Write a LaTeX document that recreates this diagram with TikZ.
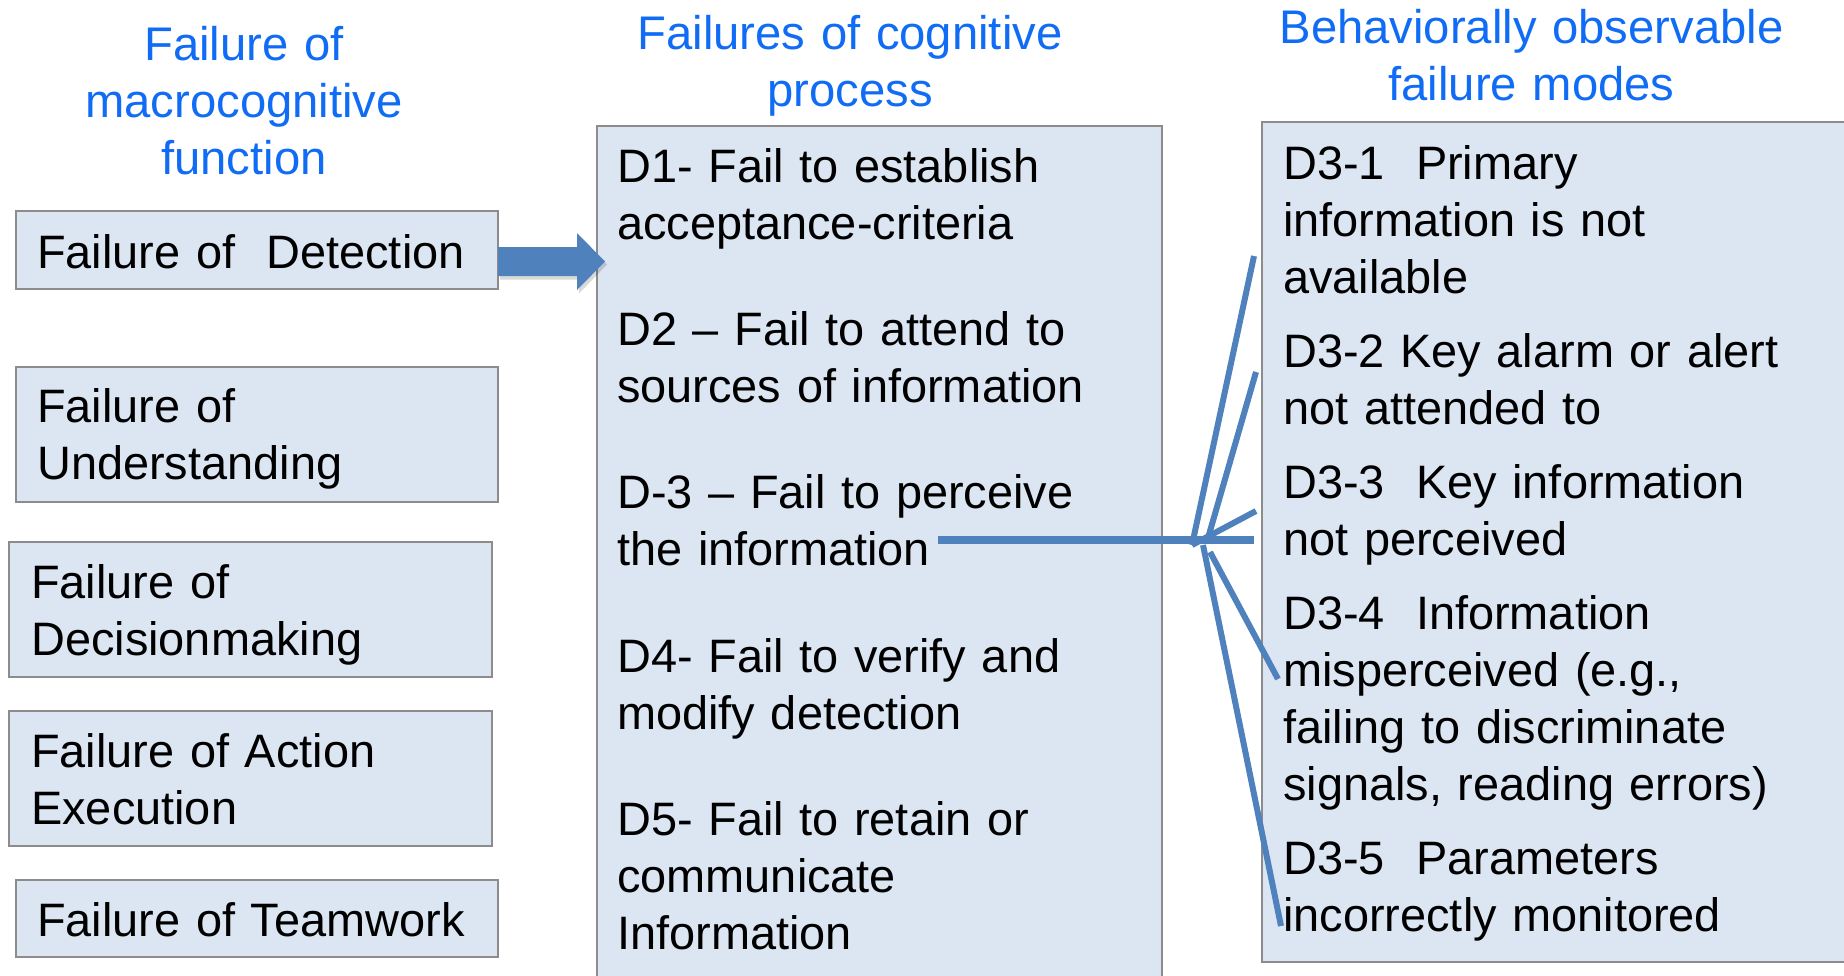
\documentclass[tikz,border=0pt]{standalone}
\usepackage{fontspec}
\setmainfont{Liberation Sans}
\usetikzlibrary{calc}
\definecolor{titleblue}{RGB}{16,108,245}
\definecolor{boxfill}{RGB}{220,230,242}
\definecolor{boxline}{RGB}{140,140,140}
\definecolor{linkblue}{RGB}{79,129,189}
\begin{document}
\begin{tikzpicture}[x=1pt,y=-1pt,
  panel/.style={draw=boxline, line width=2pt, fill=boxfill},
  heading/.style={text=titleblue, font=\fontsize{47.2}{57}\selectfont,
    text width=640pt, align=center, inner sep=0pt, anchor=base},
  body/.style={font=\fontsize{46.9}{57}\selectfont,
    text width=600pt, align=left, inner sep=0pt, anchor=base west},
  link/.style={draw=linkblue, line width=6pt},
  mainlink/.style={draw=linkblue, line width=7.5pt}]
\useasboundingbox (0,0) rectangle (1844,975);
\clip (0,0) rectangle (1844,975);

% column headings
\node[heading] (h1) at (244,60)    {Failure of\\macrocognitive\\function};
\node[heading] (h2) at (850,49.5)  {Failures of cognitive\\process};
\node[heading] (h3) at (1531.5,43.5) {Behaviorally observable\\failure modes};

% macrocognitive functions
\draw[panel] (16,211) rectangle (498,289);
\draw[panel] (16,367) rectangle (498,502);
\draw[panel] (9,542)  rectangle (492,677);
\draw[panel] (9,711)  rectangle (492,846);
\draw[panel] (16,880) rectangle (498,957);
\coordinate (bdet) at (498,250);

\node[body] (tdet) at (37,268) {Failure of\ \ Detection};
\node[body] (tund) at (37,422) {Failure of\\Understanding};
\node[body] (tdec) at (31,598) {Failure of\\Decisionmaking};
\node[body] (tact) at (31,767) {Failure of Action\\Execution};
\node[body] (ttea) at (37,936) {Failure of Teamwork};

% cognitive processes of detection
\draw[panel] (597,126) rectangle (1162,1010);
\coordinate (mid) at (597,262);
\node[body] (p1) at (617,182)   {D1- Fail to establish\\acceptance-criteria};
\node[body] (p2) at (617,345.4) {D2 \textendash{} Fail to attend to\\sources of information};
\node[body] (p3) at (617,508.8) {D-3 \textendash{} Fail to perceive\\the information};
\node[body] (p4) at (617,672.2) {D4- Fail to verify and\\modify detection};
\node[body] (p5) at (617,835.6) {D5- Fail to retain or\\communicate\\Information};

% observable failure modes
\draw[panel] (1262,122) rectangle (1900,962);
\node[body] (m1) at (1283,179) {D3-1\ \ Primary\\information is not\\available};
\node[body] (m2) at (1283,367) {D3-2 Key alarm or alert\\not attended to};
\node[body] (m3) at (1283,498) {D3-3\ \ Key information\\not perceived};
\node[body] (m4) at (1283,629) {D3-4\ \ Information\\misperceived (e.g.,\\failing to discriminate\\signals, reading errors)};
\node[body] (m5) at (1283,874) {D3-5\ \ Parameters\\incorrectly monitored};

% block arrow from detection to its processes
\coordinate (atail) at ($(bdet)+(0,11.5)$);
\coordinate (ahead) at ($(atail -| mid)+(8,0)$);
\fill[black, opacity=0.15]
  ($(atail)+(2,-12)$) -- ($(ahead)+(-26,-12)$) -- ($(ahead)+(-26,-26)$) --
  ($(ahead)+(2,3)$) -- ($(ahead)+(-26,32)$) -- ($(ahead)+(-26,18)$) --
  ($(atail)+(2,18)$) -- cycle;
\fill[linkblue]
  ($(atail)+(0,-14.5)$) -- ($(ahead)+(-28,-14.5)$) -- ($(ahead)+(-28,-28.5)$) --
  (ahead) -- ($(ahead)+(-28,28.5)$) -- ($(ahead)+(-28,14.5)$) --
  ($(atail)+(0,14.5)$) -- cycle;

% fan from D-3 to its failure modes
\coordinate (d3end) at (938,540);
\coordinate (hend)  at (1254,540);
\coordinate (hub)   at (1192,545);
\coordinate (k2)    at (1208,538);
\coordinate (k4)    at (1210,552);
\coordinate (k5)    at (1203,545);
\coordinate (e1) at (1254,256);
\coordinate (e2) at (1256,372);
\coordinate (e3) at (1256,511);
\coordinate (e4) at (1278,679);
\coordinate (e5) at (1281,926);

\draw[mainlink] (d3end) -- (hend);
\draw[link] (hub) -- (e1);
\draw[link] (k2)  -- (e2);
\draw[link] (hub) -- (e3);
\draw[link] (k4)  -- (e4);
\draw[link] (k5)  -- (e5);
\end{tikzpicture}
\end{document}
